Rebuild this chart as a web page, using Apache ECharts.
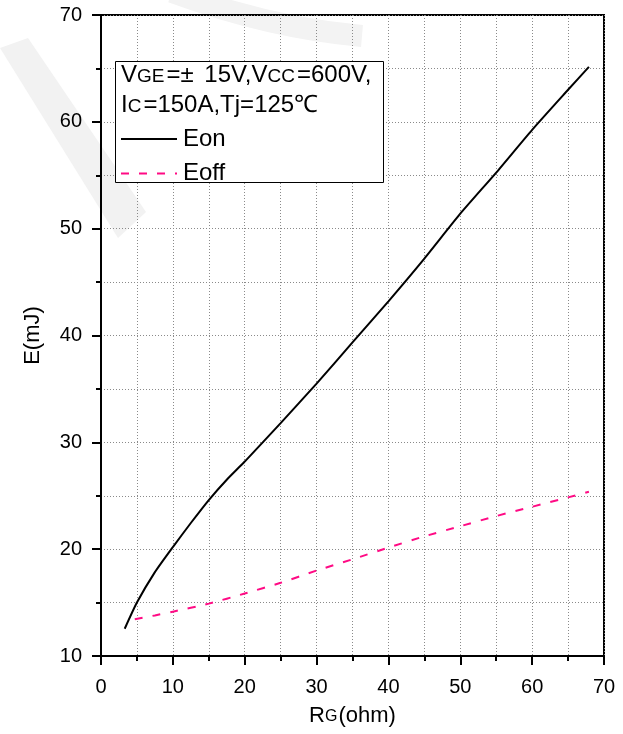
<!DOCTYPE html>
<html>
<head>
<meta charset="utf-8">
<script src="https://cdn.jsdelivr.net/npm/echarts@6/dist/echarts.min.js"></script>
<style>
  html, body { margin: 0; padding: 0; background: #ffffff; }
  #chart { width: 623px; height: 734px; }
</style>
</head>
<body>
<div id="chart"></div>
<script>
// Switching energy vs. gate resistance
const eonRg  = [3.3, 5, 7.5, 10, 12.5, 15, 17.5, 20, 25, 30, 35, 40, 45, 50, 55, 60, 65, 67.9];
const eonE   = [12.55, 15.0, 17.85, 20.2, 22.45, 24.6, 26.5, 28.2, 31.8, 35.5, 39.35, 43.2, 47.2, 51.4, 55.25, 59.25, 63.0, 65.15];
const eoffRg = [4.7, 7.5, 10, 15, 20, 25, 30, 35, 40, 45, 50, 55, 60, 65, 67.9];
const eoffE  = [13.45, 13.8, 14.15, 14.9, 15.85, 16.85, 18.0, 19.05, 20.15, 21.2, 22.15, 23.1, 23.97, 24.85, 25.37];
const xTicks = [0, 10, 20, 30, 40, 50, 60, 70];
const yTicks = [10, 20, 30, 40, 50, 60, 70];

const FONT = '"Liberation Sans", Arial, sans-serif';
const pairs = (xs, ys) => xs.map((x, i) => [x, ys[i]]);

const dotted = { color: '#8a8a8a', width: 1, type: [1, 2] };

// normal text + small-caps style letters sitting on the same baseline
const richPair = (big, small, lh, pb, pr) => ({
  n: { fontFamily: FONT, fontSize: big, color: '#000', fill: '#000', lineHeight: lh },
  g: { fontFamily: FONT, fontSize: big, color: '#000', fill: '#000', lineHeight: lh, padding: [0, 4, 0, 0] },
  s: { fontFamily: FONT, fontSize: small, color: '#000', fill: '#000', lineHeight: small,
       verticalAlign: 'bottom', padding: [0, pr, pb, 0] }
});

const chart = echarts.init(document.getElementById('chart'), null, { renderer: 'canvas' });

chart.setOption({
  backgroundColor: '#ffffff',
  animation: false,
  grid: {
    left: 101, right: 19, top: 15, bottom: 78,
    show: true, borderColor: '#000', borderWidth: 2, backgroundColor: 'transparent'
  },
  xAxis: {
    type: 'value',
    min: xTicks[0], max: xTicks[xTicks.length - 1], interval: 10,
    name: '{n|R}{s|G}{n|(ohm)}',
    nameLocation: 'middle', nameGap: 47,
    nameTextStyle: { rich: richPair(22, 16, 26, 4, 1) },
    axisLine: { lineStyle: { color: '#000', width: 2 } },
    axisTick: { length: 9, lineStyle: { color: '#000', width: 2 } },
    minorTick: { show: true, splitNumber: 2, length: 5, lineStyle: { color: '#000', width: 2 } },
    splitLine: { show: true, lineStyle: dotted },
    minorSplitLine: { show: true, lineStyle: dotted },
    axisLabel: { fontFamily: FONT, fontSize: 20, color: '#000', margin: 21 }
  },
  yAxis: {
    type: 'value',
    min: yTicks[0], max: yTicks[yTicks.length - 1], interval: 10,
    name: 'E(mJ)',
    nameLocation: 'middle', nameGap: 57, nameRotate: 90,
    nameTextStyle: { fontFamily: FONT, fontSize: 22, color: '#000' },
    axisLine: { lineStyle: { color: '#000', width: 2 } },
    axisTick: { length: 9, lineStyle: { color: '#000', width: 2 } },
    minorTick: { show: true, splitNumber: 2, length: 5, lineStyle: { color: '#000', width: 2 } },
    splitLine: { show: true, lineStyle: dotted },
    minorSplitLine: { show: true, lineStyle: dotted },
    axisLabel: { fontFamily: FONT, fontSize: 20, color: '#000', margin: 19 }
  },
  legend: {
    orient: 'vertical',
    left: 120, top: 127,
    padding: 0,
    itemWidth: 56, itemHeight: 20, itemGap: 10.5,
    z: 10,
    itemStyle: { opacity: 0, borderWidth: 0 },
    lineStyle: { width: 2 },
    textStyle: { fontFamily: FONT, fontSize: 24, color: '#000', padding: [0, 0, 0, 1] },
    data: ['Eon', 'Eoff']
  },
  graphic: [
    // faint background mark
    {
      type: 'polygon', z: -1, silent: true,
      shape: { points: [[0, 48], [28, 38], [146, 212], [118, 238]] },
      style: { fill: '#f2f2f2' }
    },
    {
      type: 'bezierCurve', z: -1, silent: true,
      shape: { x1: 172, y1: -8, cpx1: 270, cpy1: 28, x2: 362, y2: 36 },
      style: { fill: null, stroke: '#f3f3f3', lineWidth: 22 }
    },
    {
      type: 'rect', z: 5,
      shape: { x: 115.5, y: 61.5, width: 268, height: 121 },
      style: { fill: '#fff', stroke: '#000', lineWidth: 1 }
    },
    {
      type: 'text', z: 6, left: 121, top: 63,
      style: {
        text: '{n|V}{s|GE}{g|=±}{n| 15V,V}{s|CC}{n|=600V,}\n{n|I}{s|C}{n|=150A,Tj=125℃}',
        rich: richPair(24, 19, 30, 4, 2)
      }
    }
  ],
  series: [
    {
      name: 'Eon', type: 'line', smooth: 0.2, symbol: 'none',
      lineStyle: { color: '#000', width: 2 },
      itemStyle: { color: '#000' },
      data: pairs(eonRg, eonE)
    },
    {
      name: 'Eoff', type: 'line', smooth: 0.2, symbol: 'none',
      lineStyle: { color: '#ff0a84', width: 2, type: [8, 10] },
      itemStyle: { color: '#ff0a84' },
      data: pairs(eoffRg, eoffE)
    }
  ]
});
</script>
</body>
</html>
